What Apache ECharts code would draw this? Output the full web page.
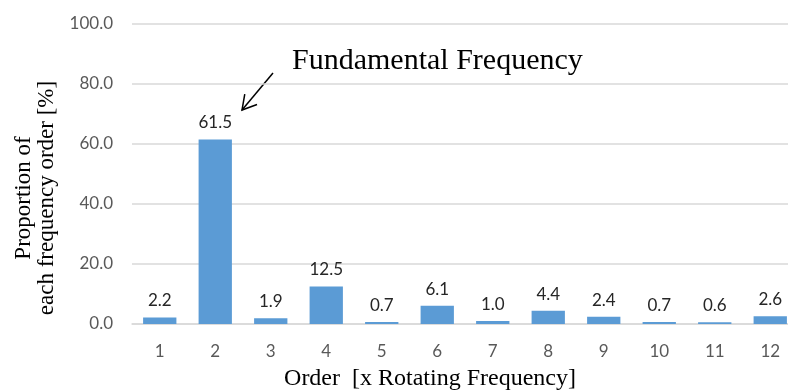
<!DOCTYPE html>
<html><head><meta charset="utf-8">
<script src="https://cdn.jsdelivr.net/npm/echarts@6/dist/echarts.min.js"></script>
<style>html,body{margin:0;padding:0;background:#fff}#c{width:788px;height:391px}</style>
</head><body><div id="c"></div>
<script>
const categories = ['1','2','3','4','5','6','7','8','9','10','11','12'];
const proportions = [2.2, 61.5, 1.9, 12.5, 0.7, 6.1, 1.0, 4.4, 2.4, 0.7, 0.6, 2.6];
const yTicks = {min: 0, max: 100, interval: 20};
const xTitle = 'Order  [x Rotating Frequency]';
const yTitle = 'Proportion of\neach frequency order [%]';
const annotation = 'Fundamental Frequency';

const chart = echarts.init(document.getElementById('c'), null, {renderer: 'canvas'});
const ax = 273, ay = 73, bx = 242, by = 110;
const dx = bx - ax, dy = by - ay, L = Math.hypot(dx, dy);
const ux = -dx / L, uy = -dy / L, h = 16, th = Math.PI / 6;
function rot(t){ return [bx + h*(ux*Math.cos(t) - uy*Math.sin(t)), by + h*(ux*Math.sin(t) + uy*Math.cos(t))]; }
chart.setOption({
  animation: false,
  backgroundColor: '#fff',
  grid: {left: 132, top: 24, width: 666, height: 300, containLabel: false, outerBoundsMode: 'none'},
  xAxis: {
    type: 'category', data: categories,
    axisLine: {lineStyle: {color: '#d9d9d9', width: 1.5}},
    axisTick: {show: false},
    axisLabel: {color: '#595959', fontFamily: 'Lato', fontSize: 17, margin: 19},
    name: xTitle, nameLocation: 'middle', nameGap: 43,
    nameTextStyle: {fontFamily: 'Liberation Serif', fontSize: 24, color: '#000', padding: [0, 70, 0, 0]}
  },
  yAxis: {
    type: 'value', min: yTicks.min, max: yTicks.max, interval: yTicks.interval,
    axisLine: {show: false}, axisTick: {show: false},
    splitLine: {lineStyle: {color: '#d9d9d9', width: 1.5}},
    axisLabel: {color: '#595959', fontFamily: 'Lato', fontSize: 17, margin: 19,
      formatter: v => v.toFixed(1)},
    name: yTitle, nameLocation: 'middle', nameGap: 72, nameRotate: 90,
    nameTextStyle: {fontFamily: 'Liberation Serif', fontSize: 23, lineHeight: 23, color: '#000', align: 'center', padding: [0, 48, 0, 0]}
  },
  series: [{
    type: 'bar', data: proportions, barWidth: '60%',
    itemStyle: {color: '#5B9BD5'},
    label: {show: true, position: 'top', distance: 8, color: '#262626', fontFamily: 'Lato', fontSize: 17,
      formatter: p => p.value.toFixed(1)}
  }],
  graphic: [
    {type: 'text', left: 292, top: 46, style: {text: annotation, font: '30px "Liberation Serif"', fill: '#000'}},
    {type: 'line', shape: {x1: ax, y1: ay, x2: bx, y2: by}, style: {stroke: '#000', lineWidth: 1.5}},
    {type: 'polyline', shape: {points: [rot(th), [bx, by], rot(-th)]}, style: {stroke: '#000', lineWidth: 1.5, fill: null}}
  ]
});
</script></body></html>
